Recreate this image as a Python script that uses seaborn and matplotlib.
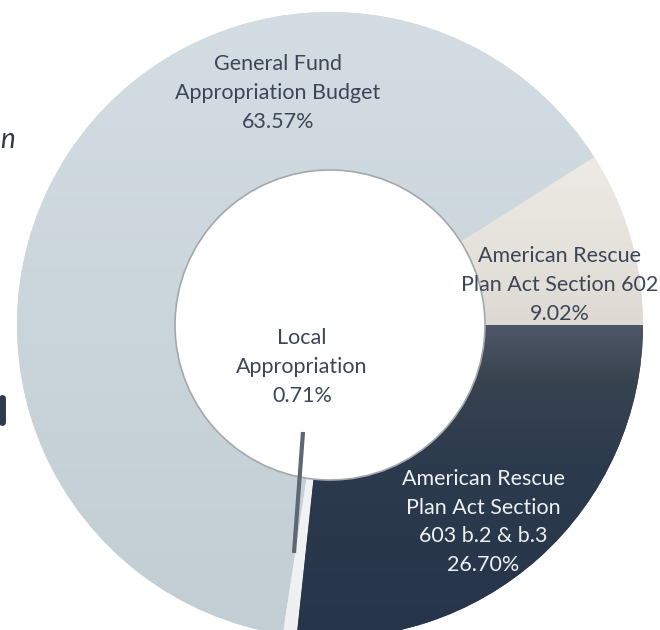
import matplotlib
matplotlib.use('Agg')
import matplotlib.pyplot as plt
import seaborn as sns
import numpy as np
from matplotlib.patches import Circle
from matplotlib.colors import LinearSegmentedColormap

sns.set_style('white')
plt.rcParams['font.family'] = ['Lato', 'DejaVu Sans']

# data, counterclockwise from 3 o'clock
labels = ['American Rescue\nPlan Act Section 602',
          'General Fund\nAppropriation Budget',
          'Local\nAppropriation',
          'American Rescue\nPlan Act Section\n603 b.2 & b.3']
shares = [9.02, 63.57, 0.71, 26.70]
colors = ['#e8e5df', '#cdd7dd', '#f3f4f5', '#2d3b4e']
# bottom -> top shades for a soft vertical gradient
shades = [['#dedad3', '#eeebe6'],
          ['#c2cdd4', '#d3dde3'],
          ['#eef0f2', '#f5f6f7'],
          [(0, '#26354a'), (0.55, '#2c3a4d'), (0.82, '#38434f'), (1, '#4f5768')]]
text_colors = ['#3b4657', '#3b4657', '#3b4657', '#eef0f2']

fig = plt.figure(figsize=(6.6, 6.3), dpi=100)
ax = fig.add_axes([0, 0, 1, 1])

cx, cy = 330, 630 - 325
r_out, r_in = 313, 155

wedges, _ = ax.pie(shares, colors=colors, startangle=0, counterclock=True,
                   center=(cx, cy), radius=r_out, frame=True,
                   wedgeprops=dict(width=r_out - r_in, linewidth=0))
ax.set_xlim(0, 660)
ax.set_ylim(0, 630)
ax.set_aspect('equal')
ax.axis('off')

grad = np.linspace(0, 1, 256).reshape(-1, 1)
for w, sh in zip(wedges, shades):
    ys = w.get_path().vertices[:, 1]
    y0, y1 = ys.min(), ys.max()
    cmap = LinearSegmentedColormap.from_list('g', sh)
    im = ax.imshow(grad, cmap=cmap, origin='lower', aspect='auto',
                   extent=(cx - r_out, cx + r_out, y0, y1), zorder=2)
    im.set_clip_path(w)

ax.add_patch(Circle((cx, cy), r_in, facecolor='white', edgecolor='#a3a8ae', lw=1.2, zorder=3))

# label positions in pixel coords from the top-left
label_pos = [(560, 285), (278, 93), (302, 367), (483, 522)]
for lab, s, (x, y), tc in zip(labels, shares, label_pos, text_colors):
    ax.text(x, 630 - y, f'{lab}\n{s:.2f}%', ha='center', va='center',
            fontsize=15.5, color=tc, linespacing=1.55, zorder=5)

# leader line for the small slice
ax.plot([303, 294], [630 - 432, 630 - 553], color='#5e6874', lw=3, zorder=4,
        solid_capstyle='butt')

# cut-off slide text at the left edge
ax.text(0, 630 - 140, 'n', fontsize=20, style='italic', color='#333a44',
        ha='left', va='center')
ax.plot([2, 2], [630 - 398, 630 - 422], color='#2d3b4e', lw=5)

fig.savefig('out.png', dpi=100)
